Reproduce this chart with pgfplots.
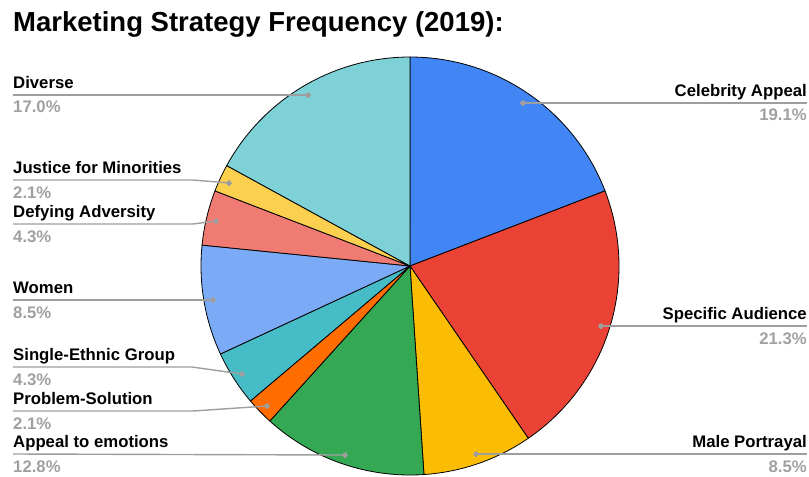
\documentclass[border=0pt]{standalone}
\usepackage{pgfplots}
\pgfplotsset{compat=1.18}
\usepackage{fontspec}
\setmainfont{Liberation Sans}
\definecolor{cCeleb}{HTML}{4285F4}
\definecolor{cSpec}{HTML}{EA4335}
\definecolor{cMale}{HTML}{FBBC04}
\definecolor{cEmo}{HTML}{34A853}
\definecolor{cProb}{HTML}{FF6D01}
\definecolor{cSingle}{HTML}{46BDC6}
\definecolor{cWomen}{HTML}{7BAAF7}
\definecolor{cDefy}{HTML}{F07B72}
\definecolor{cJust}{HTML}{FCD04F}
\definecolor{cDiv}{HTML}{7ED1D7}
\definecolor{leader}{HTML}{9E9E9E}
\definecolor{pct}{HTML}{A0A0A0}
% slice: #1 cumulative count before, #2 count, #3 colour (total 47)
\newcommand{\slice}[3]{%
  \addplot[fill=#3, draw=black, line width=0.8bp, line join=round, domain={360*#1/47}:{360*(#1+#2)/47}, samples=80, variable=\t]
    ({410+209*sin(\t)}, {266-209*cos(\t)}) -- (axis cs:410,266) -- cycle;
}
\newcommand{\labfont}{\fontsize{16.8}{19}\selectfont\bfseries}
\newcommand{\lab}[4]{% x, line y, name, pct  (left)
  \node[anchor=base west, font=\labfont, inner sep=0pt] at (axis cs:#1,#2-6.5) {#3};
  \node[anchor=base west, font=\labfont, text=pct, inner sep=0pt] at (axis cs:#1,#2+18) {#4};
}
\newcommand{\rlab}[4]{% x, line y, name, pct  (right)
  \node[anchor=base east, font=\labfont, inner sep=0pt] at (axis cs:#1,#2-6.5) {#3};
  \node[anchor=base east, font=\labfont, text=pct, inner sep=0pt] at (axis cs:#1,#2+18) {#4};
}
\begin{document}
\begin{tikzpicture}
\begin{axis}[
  width=809bp, height=477bp, scale only axis,
  xmin=0, xmax=809, ymin=0, ymax=477, y dir=reverse,
  hide axis, clip=false,
]
% counts: Celebrity 9, Specific 10, Male 4, Emotions 6, Problem 1, Single 2, Women 4, Defying 2, Justice 1, Diverse 8
\slice{0}{9}{cCeleb}
\slice{9}{10}{cSpec}
\slice{19}{4}{cMale}
\slice{23}{6}{cEmo}
\slice{29}{1}{cProb}
\slice{30}{2}{cSingle}
\slice{32}{4}{cWomen}
\slice{36}{2}{cDefy}
\slice{38}{1}{cJust}
\slice{39}{8}{cDiv}
% leader lines
\addplot[leader, line width=1.4bp] coordinates {(523,103) (807,103)};
\addplot[leader, line width=1.4bp] coordinates {(601,326) (807,326)};
\addplot[leader, line width=1.4bp] coordinates {(476,454) (807,454)};
\addplot[leader, line width=1.4bp] coordinates {(13,95) (308,95)};
\addplot[leader, line width=1.4bp] coordinates {(13,180) (193,180) (229,183)};
\addplot[leader, line width=1.4bp] coordinates {(13,224) (193,224) (216,221)};
\addplot[leader, line width=1.4bp] coordinates {(13,300) (213,300)};
\addplot[leader, line width=1.4bp] coordinates {(13,367) (192,367) (242,374)};
\addplot[leader, line width=1.4bp] coordinates {(13,411) (193,411) (267,406)};
\addplot[leader, line width=1.4bp] coordinates {(13,454) (345,455)};
\addplot[leader, only marks, mark=*, mark size=2.4bp, mark options={fill=leader, draw=leader, line width=0pt}] coordinates {
 (523,103) (601,326) (476,454) (308,95) (229,183) (216,221) (213,300) (242,374) (267,406) (345,455)};
% labels
\rlab{807}{103}{Celebrity Appeal}{19.1\%}
\rlab{807}{326}{Specific Audience}{21.3\%}
\rlab{807}{454}{Male Portrayal}{8.5\%}
\lab{13}{95}{Diverse}{17.0\%}
\lab{13}{180}{Justice for Minorities}{2.1\%}
\lab{13}{224}{Defying Adversity}{4.3\%}
\lab{13}{300}{Women}{8.5\%}
\lab{13}{367}{Single-Ethnic Group}{4.3\%}
\lab{13}{411}{Problem-Solution}{2.1\%}
\lab{13}{454}{Appeal to emotions}{12.8\%}
\node[anchor=base west, font=\fontsize{27.6}{30}\selectfont\bfseries, inner sep=0pt] at (axis cs:13,32) {Marketing Strategy Frequency (2019):};
\end{axis}
\pgfresetboundingbox
\useasboundingbox (0,0) rectangle (809bp,477bp);
\end{tikzpicture}
\end{document}
